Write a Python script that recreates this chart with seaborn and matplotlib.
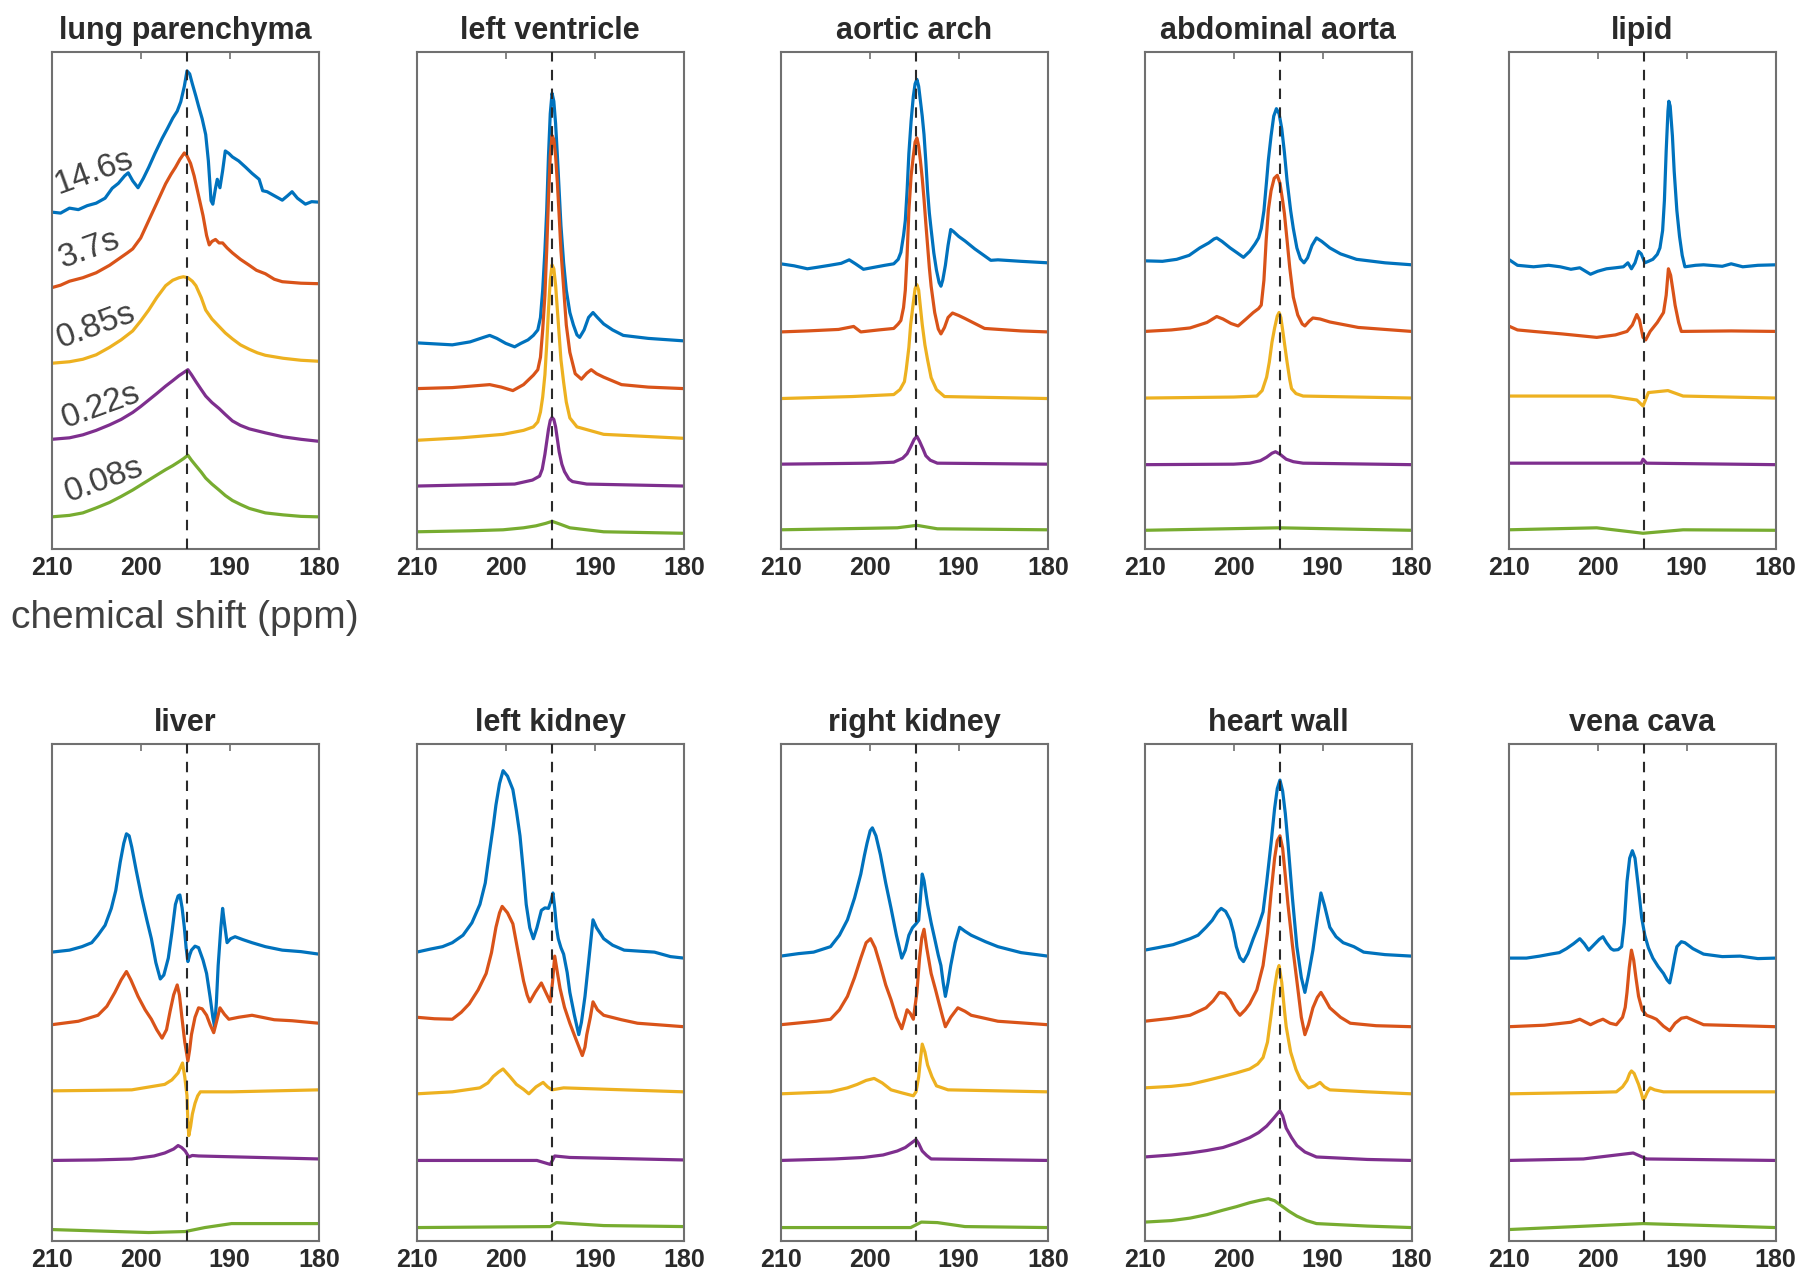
import matplotlib
matplotlib.use("Agg")
import matplotlib.pyplot as plt
import seaborn as sns
import pandas as pd

sns.set_style("white")
plt.rcParams['font.family'] = ['Liberation Sans', 'DejaVu Sans']

# ---------------- data (ppm, signal in % of panel height) ----------------
TIME_LABELS = ['14.6s', '3.7s', '0.85s', '0.22s', '0.08s']
COLORS = ['#0072BD', '#D95319', '#EDB120', '#7E2F8E', '#77AC30']
REF_PPM = 194.8
XTICKS = [210, 200, 190, 180]

LUNG = [
    [(210,67.7),(209,67.5),(208,68.5),(207,68.2),(206,69),(205,69.5),(204,70.5),(203.2,72.5),(202.5,73.5),(201.8,75),(201.4,75.6),(200.9,74),(200.3,72.6),(199.7,74.5),(199.1,76.7),(198.4,79.5),(197.6,82.5),(197,84.5),(196.4,86.6),(195.9,88),(195.5,89.9),(195.1,93),(194.8,96.1),(194.5,95.5),(194.2,93.5),(193.8,91),(193.5,89),(193.1,86.5),(192.7,83.3),(192.4,78),(192.1,70),(191.9,69.3),(191.6,72.5),(191.4,74.3),(191.1,72.6),(190.8,76),(190.5,80),(190.1,79.5),(189.7,78.8),(189,78),(188.2,76.7),(187.5,75.5),(186.7,74.3),(186.3,72),(185.8,71.8),(185,71),(184.1,70.1),(183.5,71),(183,71.8),(182.4,70.5),(181.5,69.3),(180.8,69.8),(180,69.7)],
    [(210,52.5),(209,53),(208,53.8),(206.5,54.5),(205,55.5),(203.5,57),(202.3,58.5),(201.5,59.5),(200.9,60.3),(200,62.5),(199.1,66),(198.2,69.5),(197.2,73.4),(196.6,75.3),(196.1,76.7),(195.6,78.3),(195.1,79.6),(194.8,79),(194.4,77.5),(194,75),(193.5,71),(193,67),(192.6,63),(192.3,61.1),(192,61.8),(191.6,62.2),(191.2,61.5),(190.8,61.5),(190.3,60.5),(189.7,59.5),(188.8,58.2),(187.8,57),(187,56),(186,55.3),(185,54.2),(184.1,53.7),(182,53.4),(180,53.3)],
    [(210,37.3),(208,37.6),(206.5,38.1),(205,39),(203.5,40.5),(202.2,42),(200.9,43.8),(200,45.8),(199.1,48),(198.2,50.5),(197.2,52.9),(196.4,54),(195.7,54.5),(195.2,54.7),(194.7,54.5),(194.2,53.8),(193.8,52.9),(193.2,50.5),(192.7,48),(192,46.2),(191.2,44.7),(190.5,43.4),(189.7,42.2),(188.8,41),(187.8,40.1),(186.9,39.4),(186,38.9),(184,38.3),(182,37.9),(180,37.7)],
    [(210,22),(208,22.3),(206.5,22.9),(205,23.8),(203.5,24.9),(202.2,26),(200.9,27.4),(200,28.6),(199.1,29.9),(198.2,31.2),(197.2,32.7),(196.4,33.8),(195.7,34.8),(195.2,35.4),(194.7,36),(194.3,35),(193.8,33.6),(193.2,32),(192.7,30.7),(192,29.4),(191.2,28.2),(190.5,27),(189.7,25.7),(188.8,24.8),(187.8,24.1),(186,23.3),(184,22.5),(182,22),(180,21.6)],
    [(210,6.4),(208,6.7),(206.5,7.2),(205,8.2),(203.5,9.3),(202.2,10.5),(200.9,11.8),(200,12.8),(199.1,13.8),(198.2,14.8),(197.2,15.9),(196.4,16.7),(195.7,17.5),(195.2,18.1),(194.7,18.8),(194.3,17.8),(193.8,16.7),(193.2,15.4),(192.7,14.2),(192,13),(191.2,11.8),(190.5,10.7),(189.7,9.7),(188.8,8.9),(187.8,8.1),(186,7.2),(184,6.8),(182,6.5),(180,6.4)],
]

LEFT_VENTRICLE = [
    [(210,41.4),(208,41.2),(206,41),(204,41.6),(202.5,42.5),(201.8,42.9),(201,42.3),(200,41.3),(199,40.6),(198.3,41.3),(197.5,42),(196.9,42.9),(196.4,44),(196.1,46.5),(195.85,52),(195.6,60),(195.4,68),(195.2,79),(195,87.5),(194.8,91.6),(194.6,90),(194.4,85.5),(194.2,79),(194,72),(193.8,65),(193.5,57.5),(193.2,52),(192.8,47.5),(192.4,45),(192,43),(191.7,42.5),(191.2,44),(190.7,46.5),(190.2,47.5),(189.7,46.5),(189,45.2),(188,44),(186.8,42.9),(184,42.3),(180,41.8)],
    [(210,32.2),(206,32.4),(201.8,33),(200.5,32.5),(199.2,31.8),(198,33),(196.9,34.9),(196.4,36),(196.1,38.5),(195.85,44),(195.6,51),(195.4,60),(195.2,70.5),(195,79),(194.8,83.1),(194.6,82.3),(194.4,79),(194.2,73.5),(194,67),(193.8,60),(193.5,52.5),(193.2,45),(192.8,39.5),(192.2,35.2),(191.5,34.1),(190.9,35.3),(190.4,36),(189.8,35.2),(189,34.5),(187,33),(184,32.5),(180,32.2)],
    [(210,21.8),(205,22.3),(200.3,23),(198,23.8),(196.9,24.5),(196.4,25.5),(196.1,27.5),(195.85,30.5),(195.6,35),(195.4,41),(195.2,48),(195,54),(194.8,57.1),(194.6,56.3),(194.4,53),(194.2,48),(194,43),(193.8,38),(193.5,33.5),(193.2,29.5),(192.8,26.3),(192,24.5),(189,23),(180,22.2)],
    [(210,12.6),(205,12.8),(199,13),(197,13.8),(196.2,14.6),(195.9,16),(195.6,19),(195.4,21.5),(195.2,24),(195,25.8),(194.8,26.4),(194.6,26),(194.4,24.5),(194.2,22),(194,19.5),(193.7,17),(193.4,15.5),(192.9,14),(192.5,13.5),(190.9,13),(180,12.6)],
    [(210,3.4),(204,3.6),(200.3,3.8),(198,4.2),(196.6,4.6),(195.5,5.1),(194.8,5.5),(194,5),(192.8,4.2),(189,3.4),(180,3.1)],
]

AORTIC_ARCH = [
    [(210,57.3),(208.5,56.9),(207,56.3),(205.9,56.6),(204.5,57),(203.2,57.4),(202.3,58.1),(201.6,57.3),(200.7,56.2),(199.5,56.6),(198.3,57),(197.3,57.3),(196.8,58.2),(196.5,59.6),(196.2,63),(196,66),(195.8,72),(195.6,79.5),(195.35,86),(195.1,91),(194.9,93.5),(194.7,94.4),(194.5,93),(194.3,90),(194.1,87),(193.9,83.3),(193.7,78),(193.5,72),(193.3,67.5),(193.1,64.2),(192.8,59.5),(192.5,56),(192.2,53.5),(192,52.8),(191.8,54),(191.5,57),(191.2,61),(190.9,64.2),(190.6,63.8),(190,62.8),(189.3,61.9),(188.2,60.3),(187.1,58.9),(186.4,58),(185.6,58.1),(183,57.8),(180,57.5)],
    [(210,43.6),(207,43.8),(203.5,44.1),(201.8,44.7),(201,43.6),(199,44),(197.3,44.3),(196.8,45.2),(196.5,45.9),(196.2,48.5),(196,52),(195.8,59),(195.6,68),(195.35,75),(195.1,79),(194.9,81.8),(194.7,82.6),(194.5,81),(194.3,78),(194.1,74.5),(193.9,70.3),(193.7,65.5),(193.5,61),(193.3,56.5),(193.1,52.8),(192.7,47.5),(192.3,44.2),(192,43.2),(191.6,44.5),(191.2,46.5),(190.7,47.4),(190,46.9),(189.3,46.3),(187.1,44.3),(183,43.8),(180,43.6)],
    [(210,30.2),(202,30.6),(197.3,31),(196.6,32),(196.1,33.6),(195.9,36),(195.6,40.5),(195.4,45.1),(195.1,49.5),(194.9,52.3),(194.7,53.1),(194.5,52),(194.3,48.5),(194.1,45.1),(193.8,41),(193.5,38),(193.1,34.4),(192.5,32),(191.6,30.6),(180,30.2)],
    [(210,17),(200,17.2),(197.3,17.4),(196.3,18.2),(195.8,19.1),(195.4,20.5),(195,22),(194.7,22.6),(194.4,21.6),(194,20),(193.7,18.7),(193.2,17.8),(192.4,17.2),(180,17)],
    [(210,3.8),(196.9,4.2),(194.7,4.7),(192.4,4),(180,3.8)],
]

ABDOMINAL_AORTA = [
    [(210,57.9),(208,57.8),(206.4,58.2),(205,59),(203.8,60.5),(202.8,61.5),(202.2,62.3),(201.9,62.5),(201.3,61.8),(200.4,60.5),(199.6,59.5),(198.9,58.6),(198.2,59.8),(197.6,61.3),(197.2,62.5),(196.9,64.4),(196.6,68),(196.3,74),(196.1,78.2),(195.8,83),(195.5,87),(195.2,88.5),(194.9,87.5),(194.6,84.5),(194.3,79.7),(194,74),(193.6,68),(193.3,64.4),(192.9,60.5),(192.5,58.3),(192.1,57.5),(191.7,58.5),(191.2,61),(190.7,62.5),(190.1,61.8),(189.2,60.5),(188,59.3),(186.2,58.2),(183,57.5),(180,57.1)],
    [(210,43.7),(207,44),(204.9,44.4),(203,45.5),(201.9,46.7),(201.2,46.2),(200.3,45.3),(199.5,44.8),(198.6,46.2),(197.8,47.5),(197.2,48.3),(196.9,49),(196.6,54),(196.35,62),(196.1,68.2),(195.8,72),(195.45,74.5),(195.1,75.1),(194.8,73.5),(194.5,70),(194.3,67.4),(194,62),(193.7,56.5),(193.3,50.6),(192.8,47),(192.3,45.2),(192,44.8),(191.5,45.8),(191.1,46.4),(190.3,46.2),(189.2,45.6),(186,44.5),(180,43.7)],
    [(210,30.3),(200,30.5),(197.4,30.7),(196.8,31.8),(196.3,34.5),(196,37.5),(195.7,41.5),(195.4,44.4),(195.1,46.8),(194.9,47.5),(194.7,46.5),(194.5,44),(194.3,41.4),(194,37.5),(193.7,34),(193.5,32.2),(193,31.2),(192.2,30.7),(180,30.3)],
    [(210,16.9),(200,17),(198.2,17.2),(197,17.7),(196.3,18.4),(195.7,19.2),(195.3,19.5),(194.8,19),(194.1,18),(193.3,17.5),(192.2,17.2),(180,16.9)],
    [(210,3.7),(194.9,4.2),(180,3.7)],
]

LIPID = [
    [(210,58.2),(209,57),(207.2,56.7),(205.5,57),(204.2,56.7),(203,56.2),(202,56.5),(200.8,55.2),(200,55.8),(199,56.3),(198,56.5),(197.1,56.7),(196.6,57.5),(196.2,56.3),(195.8,57.5),(195.4,59.8),(195.1,59.3),(194.7,57.5),(194.3,57.8),(193.8,58.2),(193.3,59.2),(193,60.5),(192.7,64),(192.5,70),(192.3,80),(192.1,88),(192,90),(191.85,89),(191.6,83),(191.4,75.9),(191.1,68),(190.8,62.8),(190.5,59),(190.2,56.7),(189,57),(188.1,57.1),(186,56.8),(185,57.3),(183.7,56.7),(182,57),(180,57.1)],
    [(210,44.8),(209,44),(207.2,43.7),(204,43.2),(200.1,42.5),(198,43),(196.7,43.7),(196.1,45),(195.6,47.1),(195.3,46),(194.9,42.5),(194.6,42),(194.1,43.7),(193.3,45.5),(192.6,47.5),(192.3,51),(192.05,56.3),(191.8,55),(191.5,51.5),(191.3,49),(190.9,45.5),(190.6,43.7),(185,43.8),(180,43.7)],
    [(210,30.7),(198.6,30.7),(195.6,29.9),(194.9,28.7),(194.3,31.4),(192.1,31.8),(190.4,30.7),(180,30.3)],
    [(210,17.2),(195.1,17.2),(194.9,18),(194.5,17.2),(180,16.9)],
    [(210,3.8),(200.1,4.2),(194.9,3.1),(190.4,3.8),(180,3.7)],
]

LIVER = [
    [(210,58.1),(208,58.5),(206.6,59.2),(205.5,60),(204.8,61.5),(204,63.5),(203.3,66.9),(202.8,70.5),(202.3,76.2),(201.9,80),(201.6,81.9),(201.3,81.5),(201,79.2),(200.5,74.5),(199.9,69.2),(199.3,64.5),(198.8,60.8),(198.3,56),(197.8,52.7),(197.4,53.5),(196.9,56.9),(196.5,62),(196.1,67.7),(195.8,69.4),(195.6,69.6),(195.35,67),(195.1,63.1),(194.9,59),(194.7,56.2),(194.5,57.5),(194.3,58.5),(193.9,59.3),(193.5,59),(193,56.5),(192.6,53.8),(192.2,49),(191.9,45),(191.7,43.1),(191.5,48),(191.3,55.4),(191,63),(190.8,66.9),(190.6,64),(190.3,60),(189.9,60.8),(189.4,61.2),(188.5,60.6),(187.5,60),(186,59.2),(184.1,58.5),(182,58.2),(180,57.7)],
    [(210,43.5),(207,44.2),(204.8,45.4),(203.8,47.2),(202.9,50),(202.2,52.5),(201.6,54.2),(201.1,52.5),(200.3,49.2),(199.5,46.5),(198.8,44.6),(198.2,42.5),(197.6,40.8),(197.1,42.5),(196.7,46.2),(196.3,49.5),(195.9,51.5),(195.65,49.5),(195.4,45.4),(195.05,40),(194.7,36.2),(194.5,38.5),(194.3,41.5),(193.9,45),(193.5,46.9),(193.1,46.7),(192.6,45.4),(192.2,43.5),(191.8,41.9),(191.5,44),(191.1,46.9),(190.6,45.6),(190.1,44.6),(189,45),(187.5,45.4),(185,44.5),(183,44.3),(180,43.8)],
    [(210,30.2),(205,30.3),(201,30.4),(197.3,31.5),(196.5,32.4),(195.8,33.8),(195.5,35),(195.3,35.8),(195.05,33),(194.8,29.2),(194.7,24),(194.6,21.2),(194.4,23),(194.2,25.5),(193.9,27.7),(193.6,29.2),(193.3,30),(189.8,30),(180,30.4)],
    [(210,16.2),(205,16.3),(201,16.5),(198.5,17.1),(197.3,17.7),(196.3,18.5),(195.8,19.2),(195.4,18.8),(195,18.1),(194.6,16.9),(194.2,17.2),(193.5,17.1),(180,16.5)],
    [(210,2.3),(199.1,1.7),(195,1.9),(192.8,2.7),(189.8,3.5),(180,3.5)],
]

LEFT_KIDNEY = [
    [(210,58.1),(208.5,58.7),(207.1,59.2),(206,60),(204.8,61.5),(203.8,64),(202.9,67.7),(202.3,72),(201.8,78.5),(201.4,83.5),(201.1,87.7),(200.7,92),(200.3,94.6),(199.8,93.5),(199.2,90.8),(198.8,86.5),(198.4,81.5),(198,74),(197.7,67.7),(197.3,63),(196.9,60.8),(196.5,63),(196,66.5),(195.6,67),(195.2,66.9),(194.9,68.5),(194.7,70),(194.5,67),(194.3,63),(194.1,60.8),(193.8,59),(193.5,57.7),(193.1,54),(192.8,50),(192.3,45.5),(191.8,41.5),(191.5,44),(191.1,49.2),(190.7,56),(190.2,64.6),(189.8,63),(189,60.8),(188,59.5),(186.7,58.5),(185,58.3),(183.3,58.1),(181.5,57.2),(180,56.9)],
    [(210,45),(208,44.7),(206,44.6),(205,46),(204.1,47.7),(203.1,50.5),(202.2,53.8),(201.6,58),(201.1,63.1),(200.7,66),(200.4,67.3),(199.8,66),(199.2,63.8),(198.6,58),(198,52.3),(197.6,49.5),(197.3,48.1),(196.7,50),(196,51.9),(195.5,50),(195,48.1),(194.75,52),(194.5,57.3),(194.2,54),(193.9,50.8),(193.4,47),(192.8,43.8),(192.1,40.5),(191.4,37.3),(191.1,39),(190.9,41.5),(190.5,45),(190.2,48.1),(189.7,46.5),(189,45.4),(187,44.5),(185.2,43.8),(180,43.1)],
    [(210,29.6),(206,30),(202.9,30.8),(202,31.8),(201.4,33.1),(200.8,34),(200.3,34.6),(199.5,33),(198.8,31.5),(198,30.5),(197.4,29.6),(196.6,31),(195.8,31.9),(195.3,31),(194.8,30.4),(193.5,30.8),(180,30)],
    [(210,16.2),(196.5,16.2),(195,15.4),(194.5,17.1),(192.8,16.8),(180,16.3)],
    [(210,2.7),(195,2.9),(194.3,3.7),(189,3.1),(180,2.9)],
]

RIGHT_KIDNEY = [
    [(210,57.3),(208,57.8),(206.3,58.1),(204.4,59.2),(203.4,61.5),(202.5,64.6),(201.7,69),(201,73.8),(200.6,77.5),(200.3,80),(199.95,82.5),(199.7,83.1),(199.3,81.5),(198.8,77.7),(198.2,72),(197.6,66.9),(197,61.5),(196.4,56.9),(196,58.5),(195.6,61.5),(195.2,63),(194.8,63.8),(194.5,64.5),(194.3,69),(194.1,73.8),(193.9,72.5),(193.5,67.7),(193.1,64),(192.7,60.8),(192.3,57.5),(192,55.4),(191.75,52),(191.5,49.2),(191.2,52),(190.9,55.4),(190.4,60),(189.9,63.1),(189.3,62.3),(188.6,61.5),(187,60.2),(185.6,59.2),(183,58),(180,57.3)],
    [(210,43.5),(206,44.2),(204.4,44.6),(203.4,46.5),(202.5,49.2),(201.7,53),(201,56.9),(200.4,60),(199.9,60.8),(199.4,59),(198.8,55.4),(198.2,51.5),(197.6,48.5),(197,45),(196.4,42.7),(196.1,44.5),(195.8,46.5),(195.45,45.8),(195.1,44.6),(194.7,50),(194.4,56.9),(194.15,61),(193.9,62.7),(193.6,59),(193.1,53.8),(192.6,50.5),(192.2,47.7),(191.8,45),(191.5,43.1),(190.9,45),(190.1,46.9),(189.3,46.2),(188.6,45.4),(185.6,44.2),(180,43.5)],
    [(210,29.6),(204.4,30),(202.5,30.8),(201.4,31.5),(200.4,32.3),(199.5,32.7),(198.6,31.8),(197.6,30.4),(196.4,29.8),(195.1,29.2),(194.8,30),(194.5,33),(194.3,36.5),(194.1,39.6),(193.8,38),(193.5,35.4),(193,33),(192.5,31.2),(191.2,30.4),(180,30)],
    [(210,16.2),(204,16.5),(200.7,16.8),(198.5,17.3),(196.9,18.1),(196,18.8),(195.4,19.6),(195.1,20),(194.8,20.4),(194.5,19.6),(194.1,18.1),(193.6,17.2),(193.1,16.5),(180,16.2)],
    [(210,2.7),(195.4,2.7),(194.2,3.8),(192.4,3.7),(189.3,2.9),(180,2.7)],
]

HEART_WALL = [
    [(210,58.5),(208.5,59),(206.8,59.6),(204.9,60.8),(204,61.5),(203.1,63.1),(202.4,64.5),(201.8,66.2),(201.4,66.9),(200.9,66.3),(200.4,64.6),(200,62),(199.7,59.2),(199.3,57),(198.9,56.2),(198.4,57.8),(197.8,60.8),(197.2,63.5),(196.7,66.2),(196.3,72),(195.8,80),(195.4,87),(195.1,91),(194.8,92.7),(194.5,90.5),(194.2,86),(193.9,80),(193.4,69),(192.9,59.2),(192.4,53),(192,50),(191.6,53.5),(191.1,58.5),(190.6,65),(190.2,70),(189.8,67.5),(189.2,63.1),(188.5,61.2),(187.7,60),(186.5,59.2),(185.4,58.1),(183,57.6),(180,57.3)],
    [(210,44.2),(207,44.8),(204.9,45.4),(203.1,46.9),(202.3,48.3),(201.6,50),(201,49.8),(200.4,48.5),(199.8,46.5),(199.3,45.4),(198.7,46.5),(198.2,47.7),(197.4,50.5),(196.7,55.4),(196.2,62),(195.8,70),(195.4,77),(195.1,80.5),(194.8,81.5),(194.5,79),(194.2,73.5),(193.9,67.7),(193.4,59.5),(192.9,52.3),(192.4,45),(192,41.5),(191.6,43.5),(191.1,46.9),(190.6,49),(190.2,50),(189.7,48.5),(189.2,46.9),(188,45),(186.9,43.8),(184,43.3),(180,43.1)],
    [(210,30.8),(207,31.1),(204.9,31.5),(203,32.3),(201.2,33.1),(199.7,33.8),(198.2,34.6),(197.3,35.6),(196.7,36.9),(196.2,40),(195.8,45.4),(195.4,51),(195.1,54.3),(194.9,55.4),(194.6,52),(194.3,46.5),(194.1,43.1),(193.6,38),(193,34.5),(192.5,32.5),(191.6,30.8),(190.9,31.2),(190.3,31.9),(189.8,31),(189.2,30.4),(185,30),(180,29.6)],
    [(210,16.9),(207,17.3),(204.9,17.7),(203,18.2),(201.2,18.8),(199.7,19.7),(198.2,20.8),(197.2,21.8),(196.3,23.1),(195.5,24.7),(195,25.8),(194.8,26.2),(194.5,25.2),(194.1,22.7),(193.5,20.8),(192.9,19.2),(192,17.9),(190.7,16.9),(185,16.4),(180,16.2)],
    [(210,3.8),(207,4.1),(204.9,4.6),(203,5.3),(201.2,6.2),(199.7,6.9),(198.2,7.7),(197,8.2),(196.1,8.5),(195.4,8.1),(194.8,7.3),(193.8,6),(192.9,5),(191.8,4.1),(190.7,3.5),(185,3),(180,2.7)],
]

VENA_CAVA = [
    [(210,56.9),(208,56.9),(206.5,57.3),(205.3,57.7),(204.3,58),(203.5,58.8),(202.7,59.8),(202,60.8),(201.5,59.8),(201,58.5),(200.4,59.6),(199.8,60.7),(199.4,61.2),(199,60),(198.5,58.8),(198.2,58.5),(197.7,58.6),(197.3,59.2),(197,64),(196.7,72.3),(196.4,77),(196.1,78.5),(195.8,77),(195.4,70.8),(195.05,65),(194.7,61.5),(194.3,59),(193.8,56.9),(193.2,55.2),(192.6,53.8),(192.2,52.5),(191.9,51.9),(191.6,54.5),(191.3,57.5),(191.1,59.2),(190.6,60.2),(190.2,60),(189.3,58.8),(188.1,57.7),(186,57.2),(184,57.3),(182,56.8),(180,56.9)],
    [(210,43.1),(206,43.4),(203,44),(202,44.6),(200.8,43.5),(200,44.2),(199.4,44.6),(198.6,43.8),(197.9,43.5),(197.2,45),(196.9,47),(196.7,50),(196.45,55),(196.2,58.5),(195.95,56.5),(195.7,53),(195.4,49.2),(195,46.5),(194.5,45.4),(193.9,45),(193.4,44.6),(192.6,43.2),(191.9,42.3),(191.3,43.8),(190.6,44.8),(190,45),(189,44.2),(188.1,43.5),(180,43.1)],
    [(210,29.6),(200,29.9),(197.9,30),(197.2,31),(196.7,32.3),(196.4,33.7),(196.2,34.2),(195.9,33.7),(195.4,31.5),(195.1,29.8),(194.9,28.5),(194.7,28.8),(194.4,30),(194.1,30.8),(193.6,30.4),(192.6,30),(180,30)],
    [(210,16.2),(201.6,16.5),(196,17.7),(194.5,16.5),(180,16.2)],
    [(210,2.3),(194.9,3.5),(180,2.7)],
]

TITLES = ['lung parenchyma', 'left ventricle', 'aortic arch', 'abdominal aorta', 'lipid',
          'liver', 'left kidney', 'right kidney', 'heart wall', 'vena cava']
PANEL_DATA = [LUNG, LEFT_VENTRICLE, AORTIC_ARCH, ABDOMINAL_AORTA, LIPID,
              LIVER, LEFT_KIDNEY, RIGHT_KIDNEY, HEART_WALL, VENA_CAVA]

# label positions for the first panel (axes fraction)
LABEL_POS = [(0.16, 0.758), (0.14, 0.602), (0.166, 0.447), (0.184, 0.287), (0.197, 0.139)]

# ---------------- figure ----------------
fig = plt.figure(figsize=(18, 12.88), dpi=100)
lefts = [0.0287, 0.2315, 0.4337, 0.6359, 0.8381]
width = 0.1484
bottoms = [0.574, 0.0365]
height = 0.386

frame_col = '#707070'
text_col = '#2a2a2a'

for idx, (title, traces) in enumerate(zip(TITLES, PANEL_DATA)):
    r, c = divmod(idx, 5)
    ax = fig.add_axes([lefts[c], bottoms[r], width, height])
    rows = []
    for lab, tr in zip(TIME_LABELS, traces):
        for p, v in tr:
            rows.append((p, v, lab))
    df = pd.DataFrame(rows, columns=['ppm', 'signal', 'time'])
    sns.lineplot(data=df, x='ppm', y='signal', hue='time', hue_order=TIME_LABELS,
                 palette=COLORS, estimator=None, sort=True, linewidth=2.3,
                 legend=False, ax=ax)
    for ln in ax.lines:
        ln.set_solid_joinstyle('round')
    ax.axvline(REF_PPM, color='#2a2a2a', linestyle=(0, (5, 4)), linewidth=1.5, zorder=5)
    ax.set_xlim(210, 180)
    ax.set_ylim(0, 100)
    ax.set_xticks(XTICKS)
    ax.set_xticklabels([str(t) for t in XTICKS], fontsize=18, fontweight='bold', color=text_col)
    ax.set_yticks([])
    ax.set_xlabel('')
    ax.set_ylabel('')
    ax.tick_params(axis='x', direction='in', length=5, width=1.2, top=True, pad=5, color=frame_col)
    for sp in ax.spines.values():
        sp.set_visible(True)
        sp.set_color(frame_col)
        sp.set_linewidth(1.5)
    ax.set_title(title, fontsize=22, fontweight='bold', color=text_col, pad=9)

    if idx == 0:
        for lab, (lx, ly) in zip(TIME_LABELS, LABEL_POS):
            ax.text(lx, ly, lab, transform=ax.transAxes, fontsize=24, rotation=20,
                    ha='center', va='center', color='#404040')
        ax.text(0.5, -0.14, 'chemical shift (ppm)', transform=ax.transAxes,
                fontsize=28, ha='center', va='center', color='#404040')

fig.savefig('out.png', dpi=100)
